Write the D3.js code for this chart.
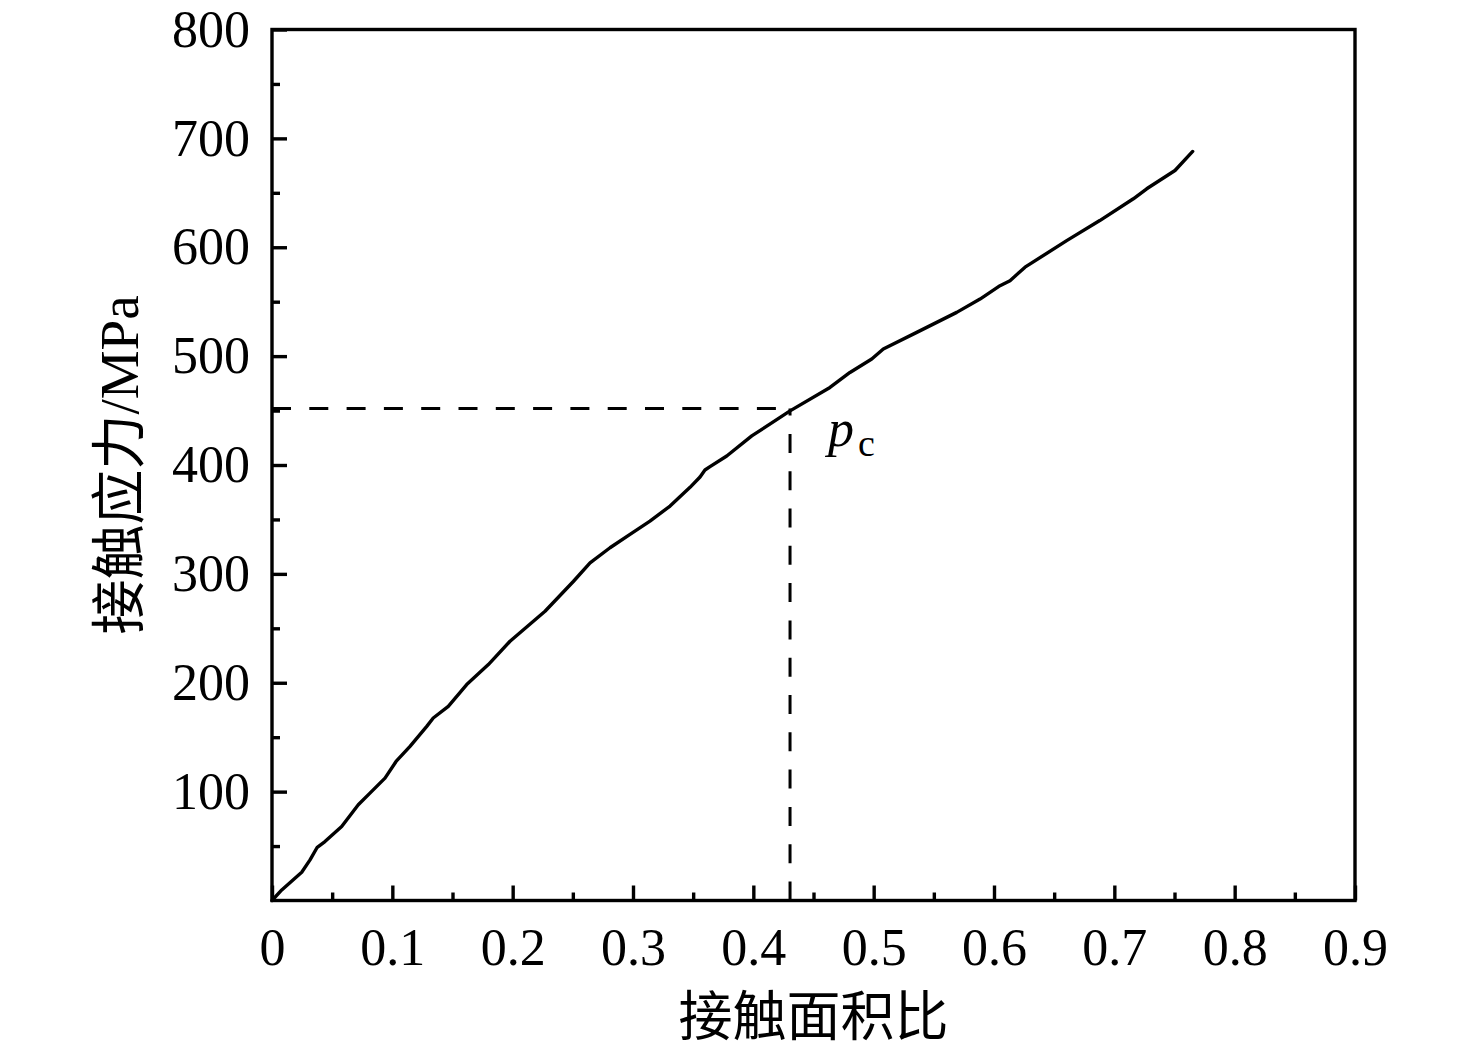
<!DOCTYPE html>
<html>
<head>
<meta charset="utf-8">
<script src="https://cdn.jsdelivr.net/npm/d3@7"></script>
<style>
  html, body { margin: 0; padding: 0; background: #fff; }
  svg text { font-family: "Liberation Serif", "Noto Sans CJK SC", serif; fill: #000; }
</style>
</head>
<body>
<div id="chart"></div>
<script>
// contact area ratio vs contact stress
const areaRatio = [0, 0.0081, 0.0247, 0.0316, 0.0376, 0.0440, 0.0579, 0.0717, 0.0814, 0.0939,
  0.1031, 0.1147, 0.1286, 0.1340, 0.1465, 0.1618, 0.1798, 0.1978, 0.2269, 0.2504,
  0.2643, 0.2809, 0.2975, 0.3141, 0.3308, 0.3474, 0.3557, 0.3598, 0.3640, 0.3779,
  0.3987, 0.4305, 0.4637, 0.4803, 0.4984, 0.5080, 0.5358, 0.5690, 0.5884, 0.6050,
  0.6133, 0.6258, 0.6604, 0.6879, 0.7158, 0.7269, 0.7504, 0.7651];
const stress = [0, 9.7, 25.9, 37.3, 48.9, 54.1, 67.9, 87.9, 98.6, 112.4,
  127.7, 141.5, 159.9, 167.6, 178.3, 198.3, 216.7, 238.1, 265.7, 293.0,
  310.2, 324.0, 336.3, 348.5, 362.3, 379.5, 389.0, 395.4, 398.5, 408.3,
  426.7, 449.7, 471.2, 485.0, 497.3, 506.5, 521.8, 540.2, 552.4, 564.7,
  569.3, 581.7, 606.1, 624.5, 644.5, 653.7, 670.5, 688.0];

// critical point p_c
const criticalRatio = 0.4305;
const criticalStress = 452;

const xTicks = [0, 0.1, 0.2, 0.3, 0.4, 0.5, 0.6, 0.7, 0.8, 0.9];
const xMinor = [0.05, 0.15, 0.25, 0.35, 0.45, 0.55, 0.65, 0.75, 0.85];
const yTicks = [100, 200, 300, 400, 500, 600, 700, 800];
const yMinor = [50, 150, 250, 350, 450, 550, 650, 750];

const xTitle = "接触面积比";
const yTitle = "接触应力/MPa";

const width = 1476, height = 1049;
const margin = { top: 29.5, right: 121, bottom: 148.5, left: 272 };
const lw = 3.4;

const svg = d3.select("#chart").append("svg")
  .attr("width", width)
  .attr("height", height);

const x = d3.scaleLinear().domain([0, 0.9]).range([margin.left, width - margin.right]);
const y = d3.scaleLinear().domain([0, 800]).range([height - margin.bottom, margin.top]);

const data = areaRatio.map((d, i) => ({ x: d, y: stress[i] }));

// dashed guide lines (drawn from the axes toward the point)
svg.append("line")
  .attr("x1", x(0)).attr("y1", y(criticalStress))
  .attr("x2", x(criticalRatio)).attr("y2", y(criticalStress))
  .attr("stroke", "#000").attr("stroke-width", 3)
  .attr("stroke-dasharray", "19,18.3");
svg.append("line")
  .attr("x1", x(criticalRatio)).attr("y1", y(0))
  .attr("x2", x(criticalRatio)).attr("y2", y(criticalStress))
  .attr("stroke", "#000").attr("stroke-width", 3)
  .attr("stroke-dasharray", "19,18.3");

// curve
svg.append("path")
  .datum(data)
  .attr("fill", "none")
  .attr("stroke", "#000")
  .attr("stroke-width", lw)
  .attr("stroke-linejoin", "round")
  .attr("stroke-linecap", "round")
  .attr("d", d3.line().x(d => x(d.x)).y(d => y(d.y)));

// axes, ticks pointing inside
svg.append("g")
  .attr("transform", "translate(0," + y(0) + ")")
  .call(d3.axisBottom(x).tickValues(xTicks).tickSize(-15).tickPadding(27.6)
    .tickFormat(d => d === 0 ? "0" : d3.format(".1f")(d)));
svg.append("g")
  .attr("transform", "translate(0," + y(0) + ")")
  .call(d3.axisBottom(x).tickValues(xMinor).tickSize(-8).tickFormat(""));

svg.append("g")
  .attr("transform", "translate(" + x(0) + ",0)")
  .call(d3.axisLeft(y).tickValues(yTicks).tickSize(-15).tickPadding(22));
svg.append("g")
  .attr("transform", "translate(" + x(0) + ",0)")
  .call(d3.axisLeft(y).tickValues(yMinor).tickSize(-8).tickFormat(""));

svg.selectAll(".domain").remove();
svg.selectAll(".tick line").attr("stroke", "#000").attr("stroke-width", lw);
svg.selectAll(".tick text")
  .attr("fill", "#000")
  .style("font-family", "'Liberation Serif', serif")
  .style("font-size", "52px");

// frame
svg.append("rect")
  .attr("x", x(0)).attr("y", y(800))
  .attr("width", x(0.9) - x(0)).attr("height", y(0) - y(800))
  .attr("fill", "none").attr("stroke", "#000").attr("stroke-width", lw);

// axis titles
svg.append("text")
  .attr("x", (x(0) + x(0.9)) / 2)
  .attr("y", 1036)
  .attr("text-anchor", "middle")
  .style("font-size", "54px")
  .text(xTitle);

svg.append("text")
  .attr("transform", "translate(138," + (y(0) + y(800)) / 2 + ") rotate(-90)")
  .attr("text-anchor", "middle")
  .style("font-size", "55px")
  .text(yTitle);

// p_c label
const pc = svg.append("text")
  .attr("x", x(criticalRatio) + 38)
  .attr("y", 446)
  .style("font-size", "52px");
pc.append("tspan").style("font-style", "italic").text("p");
pc.append("tspan").attr("dx", 4).attr("dy", 10).style("font-size", "38px").text("c");
</script>
</body>
</html>
